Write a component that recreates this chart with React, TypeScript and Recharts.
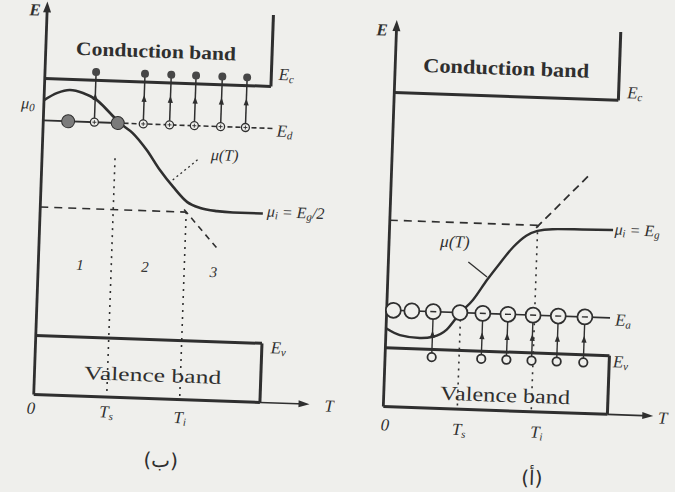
import React from "react";
import {
  ComposedChart,
  Line,
  ReferenceDot,
  ReferenceLine,
  Scatter,
  XAxis,
  YAxis,
} from "recharts";

const INK = "#2f2f2f";
const PAPER = "#efefec";
const SERIF = '"Liberation Serif", "DejaVu Serif", serif';

// energies in units of the gap (E_v = 0, E_c = 1), temperature in units of T_s
const E_C = 1;
const E_V = 0;
const E_D = 0.837;
const E_A = 0.148;
const MU_I = 0.5;
const T_S = 1;
const T_I = 2;
const T_AXIS = -0.23; // level of the T axis / bottom of the valence band
const E_FREE = 1.032; // electrons just inside the conduction band
const E_HOLE = -0.03; // holes just inside the valence band

// n-type sample: chemical potential vs temperature
const nMuT = [0, 0.18, 0.35, 0.53, 0.72, 0.91, 1.05, 1.23, 1.43, 1.62, 1.81, 2.01, 2.19, 2.42, 2.64, 3.05];
const nMuE = [0.916, 0.946, 0.959, 0.949, 0.924, 0.875, 0.837, 0.8, 0.736, 0.66, 0.596, 0.539, 0.518, 0.508, 0.505, 0.505];
const nNeutralDonors = [0.34, 1.02];
const nIonisedDonors = [0.7, 1.37, 1.73, 2.07, 2.43, 2.77];

// p-type sample
const pMuT = [0, 0.19, 0.46, 0.64, 0.82, 0.99, 1.16, 1.34, 1.51, 1.68, 1.85, 2.0, 2.2, 2.6, 3.02];
const pMuE = [0.077, 0.052, 0.043, 0.05, 0.08, 0.145, 0.199, 0.279, 0.348, 0.412, 0.458, 0.478, 0.487, 0.49, 0.492];
const pNeutralAcceptors = [0.09, 0.34, 0.99];
const pIonisedAcceptors = [0.63, 1.3, 1.64, 1.98, 2.32, 2.68];

const toPoints = (ts: number[], es: number[]) => ts.map((t, i) => ({ t, e: es[i] }));
const atLevel = (ts: number[], e: number) => ts.map((t) => ({ t, e }));

type Pt = { cx?: number; cy?: number };

const Electron = ({ cx = 0, cy = 0 }: Pt) => <circle cx={cx} cy={cy} r={4} fill="#474747" />;
const NeutralDonor = ({ cx = 0, cy = 0 }: Pt) => (
  <circle cx={cx} cy={cy} r={6.5} fill="#7b7b7b" stroke={INK} strokeWidth={1} />
);
const IonisedDonor = ({ cx = 0, cy = 0 }: Pt) => (
  <g>
    <circle cx={cx} cy={cy} r={4} fill={PAPER} stroke={INK} strokeWidth={1.3} />
    <path d={`M${cx - 2} ${cy}h4M${cx} ${cy - 2}v4`} stroke={INK} strokeWidth={0.9} />
  </g>
);
const Acceptor = ({ cx = 0, cy = 0 }: Pt) => (
  <circle cx={cx} cy={cy} r={7.5} fill={PAPER} stroke={INK} strokeWidth={1.8} />
);
const IonisedAcceptor = ({ cx = 0, cy = 0 }: Pt) => (
  <g>
    <circle cx={cx} cy={cy} r={7.5} fill={PAPER} stroke={INK} strokeWidth={1.8} />
    <path d={`M${cx - 3} ${cy}h6`} stroke={INK} strokeWidth={1.4} />
  </g>
);
const Hole = ({ cx = 0, cy = 0 }: Pt) => (
  <circle cx={cx} cy={cy} r={4.2} fill={PAPER} stroke={INK} strokeWidth={1.8} />
);
const ArrowUp = ({ cx = 0, cy = 0 }: Pt) => (
  <path d={`M${cx} ${cy - 4}L${cx - 2.6} ${cy + 3}L${cx + 2.6} ${cy + 3}Z`} fill={INK} />
);
const AxisTipUp = ({ cx = 0, cy = 0 }: Pt) => (
  <path d={`M${cx} ${cy}l-4 11h8z`} fill={INK} />
);
const AxisTipRight = ({ cx = 0, cy = 0 }: Pt) => (
  <path d={`M${cx} ${cy}l-11 -3.5v7z`} fill={INK} />
);

type TagStyle = {
  anchor?: "start" | "middle" | "end";
  size?: number;
  italic?: boolean;
  bold?: boolean;
  family?: string;
  fit?: number;
};

function Tag({
  viewBox,
  anchor = "middle",
  size = 17,
  italic = true,
  bold = false,
  family = SERIF,
  fit,
  children,
}: TagStyle & { viewBox?: any; children?: React.ReactNode }) {
  const x = viewBox?.x ?? 0;
  const y = viewBox?.y ?? 0;
  return (
    <text
      x={x}
      y={y}
      textAnchor={anchor}
      dominantBaseline="central"
      fontFamily={family}
      fontSize={size}
      fontStyle={italic ? "italic" : "normal"}
      fontWeight={bold ? 700 : 400}
      fill={INK}
      textLength={fit}
      lengthAdjust={fit ? "spacingAndGlyphs" : undefined}
    >
      {children}
    </text>
  );
}

const note = (key: string, t: number, e: number, body: React.ReactNode, style: TagStyle = {}) => (
  <ReferenceDot
    key={key}
    x={t}
    y={e}
    r={0}
    fill="none"
    stroke="none"
    label={(p: any) => (
      <Tag viewBox={p.viewBox} {...style}>
        {body}
      </Tag>
    )}
  />
);

const seg = (
  key: string,
  a: [number, number],
  b: [number, number],
  width = 3,
  dash?: string
) => (
  <ReferenceLine
    key={key}
    segment={[
      { x: a[0], y: a[1] },
      { x: b[0], y: b[1] },
    ]}
    stroke={INK}
    strokeWidth={width}
    strokeDasharray={dash}
    ifOverflow="visible"
  />
);

const sub = (s: string) => (
  <tspan fontSize={11} dy={4}>
    {s}
  </tspan>
);
const back = (s: string) => <tspan dy={-4}>{s}</tspan>;

const margin = { top: 0, right: 0, bottom: 0, left: 0 };

function NTypePanel() {
  const END = 3.1;
  return (
    <ComposedChart width={340} height={492} margin={margin}>
      <XAxis type="number" dataKey="t" domain={[-0.534, 4.123]} allowDataOverflow hide />
      <YAxis type="number" dataKey="e" domain={[-0.591, 1.323]} allowDataOverflow hide />

      {seg("mu-i", [0, MU_I], [T_I, MU_I], 1.6, "8 6")}
      {seg("ts", [T_S, 0.7], [T_S, T_AXIS], 1.6, "2 5")}
      {seg("ti", [T_I, MU_I], [T_I, T_AXIS], 1.6, "2 5")}
      {seg("slope", [1.97, 0.51], [2.45, 0.36], 1.6, "6 5")}
      {seg("lead", [1.8, 0.623], [2.16, 0.712], 1.3, "2 3")}

      {seg("ec", [0, E_C], [END, E_C])}
      {seg("cb", [END, E_C], [END, 1.278])}
      {seg("ev", [0, E_V], [END, E_V])}
      {seg("vb", [END, E_V], [END, T_AXIS])}
      {seg("t-band", [0, T_AXIS], [END, T_AXIS])}
      {seg("t-axis", [END, T_AXIS], [3.72, T_AXIS], 1.6)}
      {seg("e-axis", [0, T_AXIS], [0, 1.27], 2.8)}
      {seg("ed", [0, E_D], [1.1, E_D], 1.8)}
      {seg("ed-dash", [1.1, E_D], [3.15, E_D], 1.6, "5 3")}
      {nIonisedDonors.map((t) => seg(`jump-${t}`, [t, E_D], [t, E_FREE], 1.5))}

      <ReferenceDot x={0} y={1.3} r={0} shape={AxisTipUp} />
      <ReferenceDot x={3.78} y={T_AXIS} r={0} shape={AxisTipRight} />

      <Line
        data={toPoints(nMuT, nMuE)}
        dataKey="e"
        type="monotone"
        stroke={INK}
        strokeWidth={2.6}
        dot={false}
        isAnimationActive={false}
      />
      <Scatter data={atLevel(nIonisedDonors, (E_D + E_FREE) / 2)} dataKey="e" shape={ArrowUp} isAnimationActive={false} />
      <Scatter data={atLevel(nNeutralDonors, E_D)} dataKey="e" shape={NeutralDonor} isAnimationActive={false} />
      <Scatter data={atLevel(nIonisedDonors, E_D)} dataKey="e" shape={IonisedDonor} isAnimationActive={false} />
      <Scatter data={atLevel(nIonisedDonors, E_FREE)} dataKey="e" shape={Electron} isAnimationActive={false} />

      {note("E", -0.166, 1.265, "E", { bold: true })}
      {note("cb-name", 1.51, 1.122, "Conduction band", { italic: false, bold: true, size: 19, fit: 160 })}
      {note("Ec", 3.2, 1.047, <>E{sub("c")}</>, { anchor: "start" })}
      {note("mu0", -0.218, 0.903, <>μ{sub("0")}</>, { size: 16 })}
      {note("Ed", 3.2, 0.828, <>E{sub("d")}</>, { anchor: "start" })}
      {note("muT", 2.5, 0.727, "μ(T)", { size: 16 })}
      {note("mui", 3.105, 0.515, <>μ{sub("i")}{back(" = E")}{sub("g")}{back("/2")}</>, { anchor: "start", size: 16 })}
      {note("r1", 0.57, 0.28, "1", { size: 15 })}
      {note("r2", 1.46, 0.281, "2", { size: 15 })}
      {note("r3", 2.4, 0.27, "3", { size: 15 })}
      {note("vb-name", 1.62, -0.138, "Valence band", { italic: false, size: 19, fit: 137 })}
      {note("Ev", 3.22, -0.016, <>E{sub("v")}</>, { anchor: "start" })}
      {note("zero", -0.03, -0.283, "0")}
      {note("Ts", 1.0, -0.288, <>T{sub("s")}</>)}
      {note("Ti", 2.01, -0.3, <>T{sub("i")}</>)}
      {note("T", 4.05, -0.235, "T")}
      {note("caption", 1.77, -0.468, "(ب)", { italic: false, size: 20, family: '"DejaVu Sans", sans-serif' })}
    </ComposedChart>
  );
}

function PTypePanel() {
  const END = 3.03;
  return (
    <ComposedChart width={335} height={492} margin={margin}>
      <XAxis type="number" dataKey="t" domain={[-0.662, 3.865]} allowDataOverflow hide />
      <YAxis type="number" dataKey="e" domain={[-0.548, 1.378]} allowDataOverflow hide />

      {seg("mu-i", [0, MU_I], [T_I, MU_I], 1.6, "8 6")}
      {seg("ts", [T_S, E_A], [T_S, T_AXIS], 1.6, "2 5")}
      {seg("ti", [T_I, MU_I], [T_I, T_AXIS], 1.6, "2 5")}
      {seg("slope", [1.98, 0.49], [2.66, 0.7], 1.8, "8 5")}
      {seg("lead", [1.08, 0.347], [1.34, 0.291], 1.3)}

      {seg("ec", [0, E_C], [END, E_C])}
      {seg("cb", [END, E_C], [END, 1.268])}
      {seg("ev", [0, E_V], [END, E_V])}
      {seg("vb", [END, E_V], [END, T_AXIS])}
      {seg("t-band", [0, T_AXIS], [END, T_AXIS])}
      {seg("t-axis", [END, T_AXIS], [3.6, T_AXIS], 1.6)}
      {seg("e-axis", [0, T_AXIS], [0, 1.25], 2.8)}
      {seg("ea", [0, E_A], [3.02, E_A], 1.6)}
      {pIonisedAcceptors.map((t) => seg(`jump-${t}`, [t, E_HOLE], [t, E_A], 1.4))}

      <ReferenceDot x={0} y={1.284} r={0} shape={AxisTipUp} />
      <ReferenceDot x={3.65} y={T_AXIS} r={0} shape={AxisTipRight} />

      <Line
        data={toPoints(pMuT, pMuE)}
        dataKey="e"
        type="monotone"
        stroke={INK}
        strokeWidth={2.4}
        dot={false}
        isAnimationActive={false}
      />
      <Scatter data={atLevel(pIonisedAcceptors, (E_A + E_HOLE) / 2)} dataKey="e" shape={ArrowUp} isAnimationActive={false} />
      <Scatter data={atLevel(pNeutralAcceptors, E_A)} dataKey="e" shape={Acceptor} isAnimationActive={false} />
      <Scatter data={atLevel(pIonisedAcceptors, E_A)} dataKey="e" shape={IonisedAcceptor} isAnimationActive={false} />
      <Scatter data={atLevel(pIonisedAcceptors, E_HOLE)} dataKey="e" shape={Hole} isAnimationActive={false} />

      {note("E", -0.195, 1.243, "E", { bold: true })}
      {note("cb-name", 1.5, 1.112, "Conduction band", { italic: false, bold: true, size: 20, fit: 166 })}
      {note("Ec", 3.145, 1.031, <>E{sub("c")}</>, { anchor: "start" })}
      {note("mui", 3.04, 0.496, <>μ{sub("i")}{back(" = E")}{sub("g")}</>, { anchor: "start", size: 16 })}
      {note("muT", 0.89, 0.424, "μ(T)", { size: 17 })}
      {note("Ea", 3.09, 0.14, <>E{sub("a")}</>, { anchor: "start" })}
      {note("Ev", 3.08, -0.023, <>E{sub("v")}</>, { anchor: "start" })}
      {note("vb-name", 1.64, -0.168, "Valence band", { italic: false, size: 20, fit: 130 })}
      {note("zero", 0.03, -0.302, "0")}
      {note("Ts", 1.03, -0.31, <>T{sub("s")}</>)}
      {note("Ti", 2.08, -0.31, <>T{sub("i")}</>)}
      {note("T", 3.78, -0.237, "T")}
      {note("caption", 2.04, -0.489, "(أ)", { italic: false, size: 20, family: '"DejaVu Sans", sans-serif' })}
    </ComposedChart>
  );
}

export default function App() {
  return (
    <div
      style={{
        position: "fixed",
        left: 0,
        top: 0,
        width: 675,
        height: 492,
        overflow: "hidden",
        background: PAPER,
      }}
    >
      <div
        style={{
          position: "absolute",
          left: 0,
          top: 0,
          width: 340,
          height: 492,
          transform: "rotate(2deg)",
          transformOrigin: "170px 246px",
        }}
      >
        <NTypePanel />
      </div>
      <div
        style={{
          position: "absolute",
          left: 340,
          top: 0,
          width: 335,
          height: 492,
          transform: "rotate(2deg)",
          transformOrigin: "167px 246px",
        }}
      >
        <PTypePanel />
      </div>
    </div>
  );
}
